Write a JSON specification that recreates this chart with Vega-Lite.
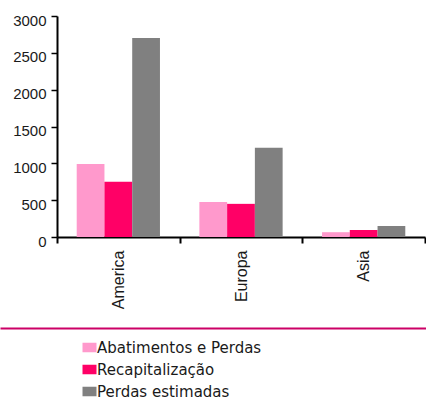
{
  "$schema": "https://vega.github.io/schema/vega-lite/v6.json",
  "width": 368,
  "height": 221,
  "autosize": {"type": "none"},
  "padding": {"left": 57, "top": 16, "right": 1, "bottom": 162},
  "background": "white",
  "config": {"view": {"stroke": null}},
  "data": {
    "values": [
      {"regiao": "America", "serie": "Abatimentos e Perdas", "valor": 990},
      {"regiao": "America", "serie": "Recapitalização", "valor": 750},
      {"regiao": "America", "serie": "Perdas estimadas", "valor": 2700},
      {"regiao": "Europa", "serie": "Abatimentos e Perdas", "valor": 475},
      {"regiao": "Europa", "serie": "Recapitalização", "valor": 450},
      {"regiao": "Europa", "serie": "Perdas estimadas", "valor": 1210},
      {"regiao": "Asia", "serie": "Abatimentos e Perdas", "valor": 65},
      {"regiao": "Asia", "serie": "Recapitalização", "valor": 95},
      {"regiao": "Asia", "serie": "Perdas estimadas", "valor": 150}
    ]
  },
  "layer": [
    {
      "mark": {"type": "bar"},
      "encoding": {
        "x": {
          "field": "regiao",
          "type": "nominal",
          "sort": ["America", "Europa", "Asia"],
          "scale": {"paddingInner": 0, "paddingOuter": 0},
          "axis": {
            "title": null,
            "orient": "bottom",
            "labelAngle": -90,
            "labelAlign": "right",
            "labelBaseline": "middle",
            "tickBand": "extent",
            "labelFont": "Liberation Sans",
            "labelFontSize": 16,
            "labelColor": "#1a1a1a",
            "labelPadding": 7,
            "domainColor": "black",
            "domainWidth": 2,
            "tickColor": "black",
            "tickWidth": 2,
            "tickSize": 6
          }
        },
        "xOffset": {
          "field": "serie",
          "sort": ["Abatimentos e Perdas", "Recapitalização", "Perdas estimadas"],
          "scale": {"paddingInner": 0, "paddingOuter": 0.71}
        },
        "y": {
          "field": "valor",
          "type": "quantitative",
          "scale": {"domain": [0, 3000]},
          "axis": {
            "title": null,
            "values": [0, 500, 1000, 1500, 2000, 2500, 3000],
            "format": "d",
            "grid": false,
            "labelFont": "Liberation Sans",
            "labelFontSize": 15,
            "labelColor": "#1a1a1a",
            "labelOffset": 4,
            "labelPadding": 5,
            "labelBound": false,
            "labelOverlap": false,
            "domainColor": "black",
            "domainWidth": 2,
            "tickColor": "black",
            "tickWidth": 1.5,
            "tickSize": 6
          }
        },
        "color": {
          "field": "serie",
          "type": "nominal",
          "sort": ["Abatimentos e Perdas", "Recapitalização", "Perdas estimadas"],
          "scale": {
            "domain": ["Abatimentos e Perdas", "Recapitalização", "Perdas estimadas"],
            "range": ["#ff99cc", "#ff0066", "#808080"]
          },
          "legend": {
            "title": null,
            "orient": "none",
            "legendX": 25,
            "legendY": 324,
            "symbolType": "M-1,-0.68L1,-0.68L1,0.68L-1,0.68Z",
            "symbolSize": 196,
            "symbolStrokeWidth": 0,
            "labelFont": "DejaVu Sans",
            "labelFontSize": 15,
            "labelColor": "#1a1a1a",
            "labelOffset": 0,
            "labelLimit": 0,
            "rowPadding": 6,
            "padding": 0
          }
        }
      }
    },
    {
      "mark": {"type": "point", "opacity": 0},
      "encoding": {
        "x": {
          "datum": 0,
          "type": "quantitative",
          "scale": {"domain": [0, 1], "range": [-57, 369]},
          "axis": {
            "orient": "bottom",
            "offset": 91,
            "title": null,
            "labels": false,
            "ticks": false,
            "grid": false,
            "domainColor": "#cc0066",
            "domainWidth": 2
          }
        }
      }
    }
  ],
  "resolve": {"scale": {"x": "independent"}, "axis": {"x": "independent"}}
}
